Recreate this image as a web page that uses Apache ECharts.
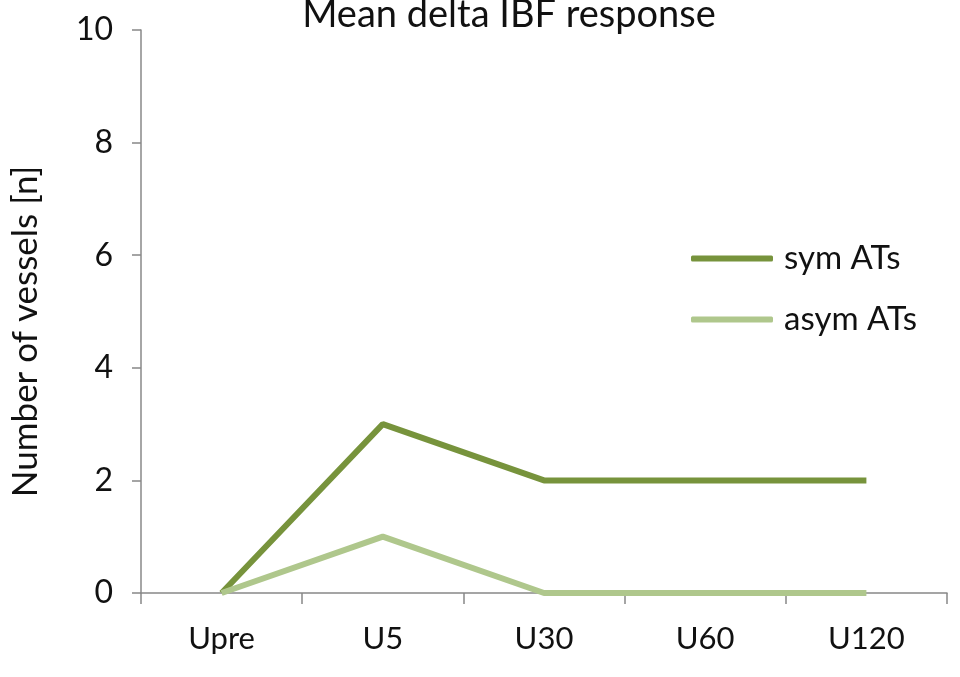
<!DOCTYPE html>
<html>
<head>
<meta charset="utf-8">
<script src="https://cdn.jsdelivr.net/npm/echarts@6/dist/echarts.min.js"></script>
<style>
  html, body { margin: 0; padding: 0; background: #fff; }
  #chart { width: 960px; height: 677px; }
</style>
</head>
<body>
<div id="chart"></div>
<script>
const categories = ['Upre', 'U5', 'U30', 'U60', 'U120']
const symValues = [0, 3, 2, 2, 2]
const asymValues = [0, 1, 0, 0, 0]
const yTicks = { min: 0, max: 10, interval: 2 }

const font = 'Lato, "Open Sans", sans-serif'
const chart = echarts.init(document.getElementById('chart'))

const option = {
  animation: false,
  title: {
    text: 'Mean delta IBF response',
    left: 504,
    textAlign: 'center',
    top: -9,
    textStyle: { fontFamily: font, fontWeight: 'normal', fontSize: 38, color: '#111' }
  },
  legend: {
    orient: 'vertical',
    left: 686,
    top: 237,
    itemWidth: 82,
    itemHeight: 6,
    itemGap: 28,
    icon: 'roundRect',
    textStyle: { fontFamily: font, fontSize: 33, color: '#111', padding: [0, 0, 0, 6] },
    data: ['sym ATs', 'asym ATs']
  },
  grid: {
    left: 137,
    right: 13,
    top: 30,
    bottom: 84,
    containLabel: false
  },
  xAxis: {
    type: 'category',
    data: categories,
    boundaryGap: true,
    axisLine: { lineStyle: { color: '#888', width: 1.5 } },
    axisTick: { show: true, length: 11, alignWithLabel: false, lineStyle: { color: '#888', width: 1.5 } },
    axisLabel: { fontFamily: font, fontSize: 31, color: '#111', margin: 30 }
  },
  yAxis: {
    type: 'value',
    min: yTicks.min,
    max: yTicks.max,
    interval: yTicks.interval,
    name: 'Number of vessels [n]',
    nameLocation: 'middle',
    nameGap: 98,
    nameTextStyle: { fontFamily: font, fontSize: 35, color: '#111', padding: [0, 40, 0, 0] },
    splitLine: { show: false },
    axisLine: { show: true, lineStyle: { color: '#888', width: 1.5 } },
    axisTick: { show: true, length: 9, lineStyle: { color: '#888', width: 1.5 } },
    axisLabel: { fontFamily: font, fontSize: 32, color: '#111', margin: 28 }
  },
  series: [
    {
      name: 'sym ATs',
      type: 'line',
      data: symValues,
      symbol: 'none',
      color: '#77933c',
      lineStyle: { width: 6, color: '#77933c' },
      z: 3
    },
    {
      name: 'asym ATs',
      type: 'line',
      data: asymValues,
      symbol: 'none',
      color: '#afc78c',
      lineStyle: { width: 6, color: '#afc78c' },
      z: 4
    }
  ]
}

chart.setOption(option)
</script>
</body>
</html>
